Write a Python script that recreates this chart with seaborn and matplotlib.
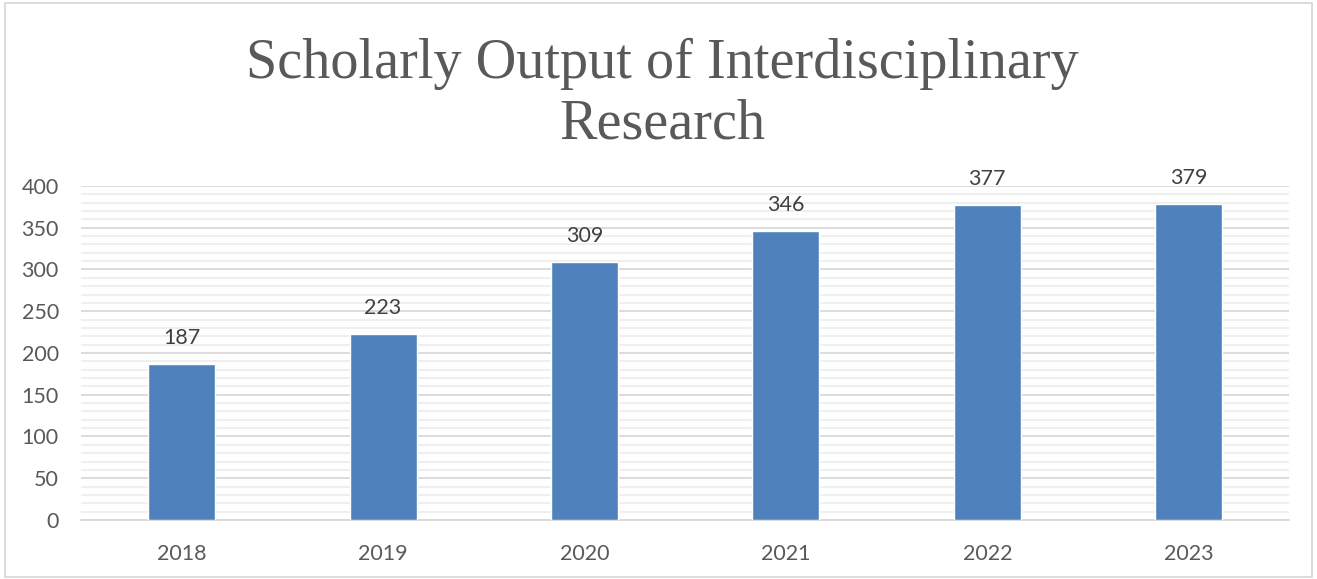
import numpy as np
import pandas as pd
import matplotlib
matplotlib.use('Agg')
import matplotlib.pyplot as plt
from matplotlib.ticker import MultipleLocator
import seaborn as sns

# Data
years = ['2018', '2019', '2020', '2021', '2022', '2023']
output = [187, 223, 309, 346, 377, 379]

df = pd.DataFrame({'year': years, 'output': output})

sns.set_style('white')
plt.rcParams['font.family'] = ['Lato', 'DejaVu Sans']

fig = plt.figure(figsize=(13.17, 5.79), dpi=100)
ax = fig.add_axes([0.0615, 0.1019, 0.9175, 0.5769])

sns.barplot(x='year', y='output', data=df, color='#4F81BD', saturation=1,
            width=0.333, ax=ax, zorder=3)

ax.set_ylim(0, 400)
ax.yaxis.set_major_locator(MultipleLocator(50))
ax.yaxis.set_minor_locator(MultipleLocator(10))
ax.grid(axis='y', which='major', color='#D9D9D9', linewidth=1.3, zorder=0)
ax.grid(axis='y', which='minor', color='#EEEEEE', linewidth=1.3, zorder=0)
ax.set_axisbelow(True)

for s in ['top', 'right', 'left']:
    ax.spines[s].set_visible(False)
ax.spines['bottom'].set_color('#D9D9D9')
ax.spines['bottom'].set_linewidth(1.3)

ax.tick_params(axis='both', which='both', length=0, labelsize=15.5,
               labelcolor='#595959')
ax.tick_params(axis='y', pad=16)
ax.tick_params(axis='x', pad=17)
ax.set_xlabel('')
ax.set_ylabel('')

# Value labels
for i, v in enumerate(output):
    ax.text(i, v + 19, str(v), ha='center', va='bottom', fontsize=15.5,
            color='#404040')

# Title
fig.text(0.503, 0.837, 'Scholarly Output of Interdisciplinary\nResearch',
         ha='center', va='center', fontsize=40.5, color='#595959',
         family=['Liberation Serif', 'DejaVu Serif'], linespacing=1.2)

# Chart border
fig.patches.append(plt.Rectangle((0.004, 0.004), 0.992, 0.99, fill=False,
                                 edgecolor='#D9D9D9', linewidth=1.3,
                                 transform=fig.transFigure, figure=fig))

fig.savefig('out.png', dpi=100)
